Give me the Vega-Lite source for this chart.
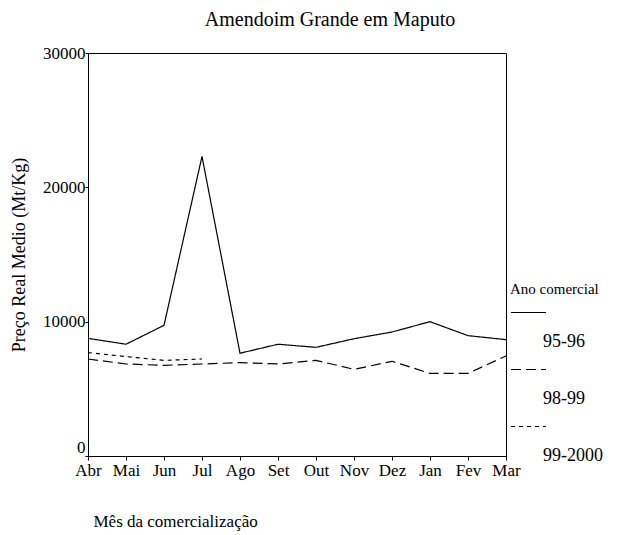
{
  "$schema": "https://vega.github.io/schema/vega-lite/v6.json",
  "autosize": {"type": "none"},
  "padding": {"left": 88, "top": 53, "right": 112, "bottom": 79},
  "width": 418,
  "height": 403,
  "background": "white",
  "config": {
    "font": "Liberation Serif",
    "view": {"stroke": "black", "strokeWidth": 1},
    "text": {"font": "Liberation Serif"}
  },
  "title": {
    "text": "Amendoim Grande em Maputo",
    "font": "Liberation Serif",
    "fontSize": 20,
    "fontWeight": "normal",
    "color": "black",
    "offset": 14,
    "dx": 33
  },
  "data": {
    "values": [
      {"mes": "Abr", "ano": "95-96", "preco": 8760},
      {"mes": "Mai", "ano": "95-96", "preco": 8320},
      {"mes": "Jun", "ano": "95-96", "preco": 9730},
      {"mes": "Jul", "ano": "95-96", "preco": 22300},
      {"mes": "Ago", "ano": "95-96", "preco": 7650},
      {"mes": "Set", "ano": "95-96", "preco": 8320},
      {"mes": "Out", "ano": "95-96", "preco": 8090},
      {"mes": "Nov", "ano": "95-96", "preco": 8730},
      {"mes": "Dez", "ano": "95-96", "preco": 9230},
      {"mes": "Jan", "ano": "95-96", "preco": 10000},
      {"mes": "Fev", "ano": "95-96", "preco": 8960},
      {"mes": "Mar", "ano": "95-96", "preco": 8660},
      {"mes": "Abr", "ano": "98-99", "preco": 7220},
      {"mes": "Mai", "ano": "98-99", "preco": 6850},
      {"mes": "Jun", "ano": "98-99", "preco": 6750},
      {"mes": "Jul", "ano": "98-99", "preco": 6850},
      {"mes": "Ago", "ano": "98-99", "preco": 6950},
      {"mes": "Set", "ano": "98-99", "preco": 6850},
      {"mes": "Out", "ano": "98-99", "preco": 7120},
      {"mes": "Nov", "ano": "98-99", "preco": 6450},
      {"mes": "Dez", "ano": "98-99", "preco": 7050},
      {"mes": "Jan", "ano": "98-99", "preco": 6150},
      {"mes": "Fev", "ano": "98-99", "preco": 6150},
      {"mes": "Mar", "ano": "98-99", "preco": 7450},
      {"mes": "Abr", "ano": "99-2000", "preco": 7700},
      {"mes": "Mai", "ano": "99-2000", "preco": 7400},
      {"mes": "Jun", "ano": "99-2000", "preco": 7120},
      {"mes": "Jul", "ano": "99-2000", "preco": 7220}
    ]
  },
  "mark": {"type": "line", "color": "black", "strokeWidth": 1.2},
  "encoding": {
    "x": {
      "field": "mes",
      "type": "ordinal",
      "sort": ["Abr", "Mai", "Jun", "Jul", "Ago", "Set", "Out", "Nov", "Dez", "Jan", "Fev", "Mar"],
      "scale": {"type": "point", "padding": 0},
      "axis": {
        "title": "Mês da comercialização",
        "titleFont": "Liberation Serif",
        "titleFontSize": 17,
        "titleFontWeight": "normal",
        "titleColor": "black",
        "titleAnchor": "start",
        "titleAlign": "left",
        "titleX": 5,
        "titleY": 57,
        "labelAngle": 0,
        "labelFont": "Liberation Serif",
        "labelFontSize": 17,
        "labelColor": "black",
        "labelPadding": 2,
        "tickSize": 4,
        "tickColor": "black",
        "domainColor": "black",
        "grid": false
      }
    },
    "y": {
      "field": "preco",
      "type": "quantitative",
      "scale": {"domain": [0, 30000], "nice": false},
      "axis": {
        "title": "Preço Real Medio (Mt/Kg)",
        "titleFont": "Liberation Serif",
        "titleFontSize": 18,
        "titleFontWeight": "normal",
        "titleColor": "black",
        "titleX": -60,
        "values": [0, 10000, 20000, 30000],
        "format": "d",
        "labelFont": "Liberation Serif",
        "labelFontSize": 17,
        "labelColor": "black",
        "labelPadding": 0,
        "labelBaseline": {"condition": {"test": "datum.value == 0", "value": "bottom"}, "value": "middle"},
        "tickSize": 3,
        "tickColor": "black",
        "domainColor": "black",
        "grid": false
      }
    },
    "strokeDash": {
      "field": "ano",
      "type": "nominal",
      "scale": {"domain": ["95-96", "98-99", "99-2000"], "range": [[1, 0], [10, 5], [4, 4]]},
      "legend": {
        "title": "Ano comercial",
        "titleFont": "Liberation Serif",
        "titleFontSize": 15,
        "titleFontWeight": "normal",
        "titleColor": "black",
        "titlePadding": -3,
        "orient": "none",
        "legendX": 422,
        "legendY": 229,
        "symbolType": "stroke",
        "symbolSize": 1225,
        "symbolStrokeColor": "black",
        "symbolStrokeWidth": 1.2,
        "labelExpr": "['', datum.label]",
        "labelFont": "Liberation Serif",
        "labelFontSize": 18,
        "labelColor": "black",
        "labelBaseline": "top",
        "labelOffset": -4,
        "rowPadding": 0
      }
    }
  }
}
